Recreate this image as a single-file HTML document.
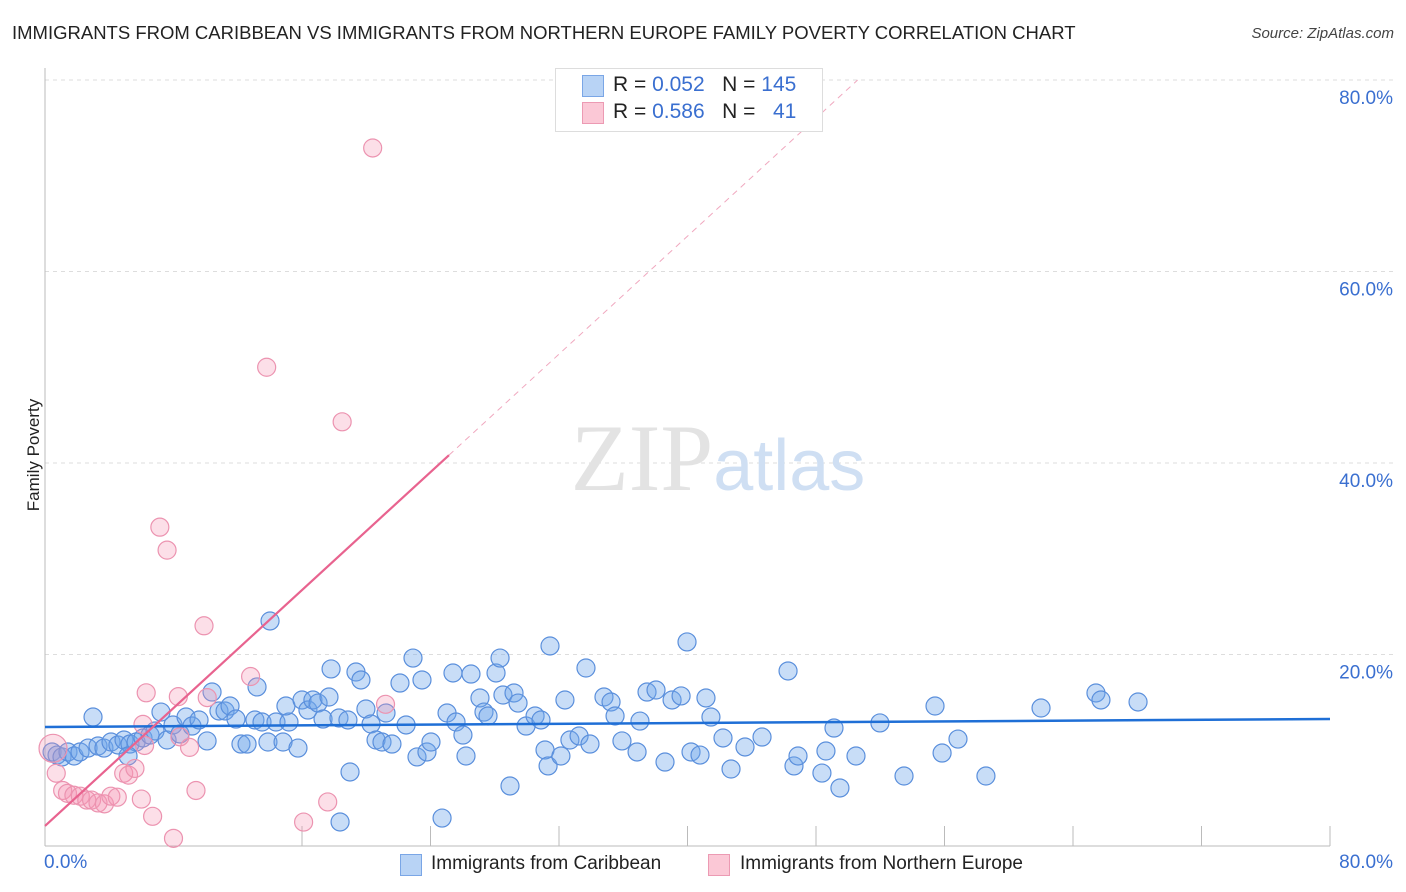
<!DOCTYPE html>
<html><head><meta charset="utf-8">
<style>
body{margin:0;background:#fff;font-family:"Liberation Sans",sans-serif;}
#wrap{position:relative;width:1406px;height:892px;overflow:hidden;}
.t{position:absolute;white-space:nowrap;}
</style></head>
<body>
<div id="wrap">
<div class="t" style="left:12px;top:22px;font-size:18.5px;color:#222;">IMMIGRANTS FROM CARIBBEAN VS IMMIGRANTS FROM NORTHERN EUROPE FAMILY POVERTY CORRELATION CHART</div>
<div class="t" style="right:12px;top:25px;font-size:15px;color:#444;font-style:italic;">Source: ZipAtlas.com</div>
<div class="t" style="left:-22px;top:445px;font-size:17px;color:#222;transform:rotate(-90deg);">Family Poverty</div>
<svg id="plot" width="1406" height="892" style="position:absolute;left:0;top:0"></svg>
<div style="position:absolute;left:555px;top:68px;width:266px;height:62px;border:1px solid #ddd;background:#fff;"></div>
<div style="position:absolute;left:582px;top:75px;width:20px;height:20px;background:#b8d3f5;border:1px solid #7aa6e6;"></div>
<div style="position:absolute;left:582px;top:102px;width:20px;height:20px;background:#fbc8d6;border:1px solid #ec9ab3;"></div>
<div class="t" style="left:613px;top:73px;font-size:21px;color:#222;">R = <span style="color:#3a6fd0">0.052</span>&nbsp;&nbsp;&nbsp;N = <span style="color:#3a6fd0">145</span></div>
<div class="t" style="left:613px;top:100px;font-size:21px;color:#222;">R = <span style="color:#3a6fd0">0.586</span>&nbsp;&nbsp;&nbsp;N = <span style="color:#3a6fd0">&nbsp;&nbsp;41</span></div>
<div class="t" style="left:44px;top:852px;font-size:19px;color:#3a6fd0;">0.0%</div>
<div class="t" style="right:13px;top:852px;font-size:19px;color:#3a6fd0;">80.0%</div>
<div style="position:absolute;left:400px;top:854px;width:20px;height:20px;background:#b8d3f5;border:1px solid #7aa6e6;"></div>
<div class="t" style="left:431px;top:853px;font-size:19px;color:#222;">Immigrants from Caribbean</div>
<div style="position:absolute;left:708px;top:854px;width:20px;height:20px;background:#fbc8d6;border:1px solid #ec9ab3;"></div>
<div class="t" style="left:740px;top:853px;font-size:19px;color:#222;">Immigrants from Northern Europe</div>
</div>
<script>
const yTicks=[20,40,60,80];
const yTickLabels=["20.0%","40.0%","60.0%","80.0%"];
const blueX=[0.44,0.75,1.06,1.43,1.81,2.18,2.68,2.99,3.30,3.67,4.11,4.54,4.92,5.29,5.67,6.10,6.54,6.85,7.22,7.60,7.97,8.40,8.78,9.15,9.59,10.09,10.40,10.83,11.21,11.52,11.89,12.20,12.58,13.07,13.51,14.01,13.20,13.88,14.38,14.82,15.19,15.00,15.75,16.00,16.37,16.68,17.00,17.31,17.68,17.81,18.30,18.86,19.36,19.67,19.98,20.30,20.61,20.98,21.23,21.60,22.10,22.48,22.91,23.16,23.47,23.78,24.03,25.03,25.40,25.59,26.02,26.21,26.52,27.08,27.33,27.58,28.08,28.33,28.51,28.95,29.20,29.45,29.95,30.51,30.88,31.13,31.32,31.44,32.12,32.37,32.68,33.25,33.68,33.93,34.80,35.24,35.49,35.92,36.86,37.04,37.48,38.04,38.60,39.04,39.60,39.97,40.22,40.78,41.15,41.46,42.21,42.71,43.58,44.64,46.26,46.63,46.88,48.37,48.62,49.12,49.49,50.49,51.98,53.48,55.41,55.85,56.84,58.58,62.01,65.43,65.74,68.05,18.37,24.72,18.99,5.17];
const blueY=[9.82,9.5,9.3,9.82,9.4,9.82,10.23,13.47,10.44,10.23,10.86,10.55,11.07,10.65,10.86,11.28,11.59,12.01,13.99,11.07,12.64,11.70,13.47,12.53,13.16,10.97,16.08,14.10,14.10,14.62,13.26,10.65,10.65,13.16,12.95,23.50,16.61,10.86,12.95,10.86,12.95,14.62,10.23,15.25,14.20,15.25,14.93,13.26,15.56,18.49,13.37,13.16,18.17,17.34,14.31,12.74,11.07,10.86,13.89,10.65,17.02,12.64,19.63,9.30,17.34,9.82,10.86,13.89,18.07,12.95,11.59,9.40,17.96,15.46,13.99,13.58,18.07,19.63,15.77,6.27,15.98,14.93,12.53,13.58,13.16,10.03,8.36,20.89,9.40,15.25,11.07,11.49,18.59,10.65,15.56,15.04,13.58,10.97,9.82,13.05,16.08,16.29,8.77,15.25,15.67,21.31,9.82,9.50,15.46,13.47,11.28,8.04,10.34,11.38,18.28,8.36,9.40,7.62,9.92,12.32,6.06,9.40,12.85,7.31,14.62,9.71,11.17,7.31,14.41,15.98,15.25,15.04,2.51,2.92,7.73,9.40];
const pinkX=[0.5,0.7,1.1,1.4,1.8,2.2,2.6,2.9,3.3,3.7,4.1,4.5,4.9,5.2,5.6,6,6.2,6.7,6.3,7.15,7.6,8.0,8.3,8.4,9,9.4,9.9,10.1,12.8,13.8,16.1,17.6,18.5,20.4,21.2,6.1];
const pinkY=[10.2,7.6,5.8,5.5,5.3,5.2,4.8,4.8,4.5,4.4,5.2,5.1,7.6,7.4,8.1,4.9,10.5,3.1,16,33.3,30.9,0.8,15.6,11.4,10.3,5.8,23.0,15.5,17.7,50,2.5,4.6,44.3,72.9,14.8,12.7];
const X0=45,X1=1330,Y0=846,Y80=80;
const xs=v=>X0+(X1-X0)*v/80, ys=v=>Y0-(Y0-Y80)*v/80;
const svg=document.getElementById('plot');const NS='http://www.w3.org/2000/svg';
function mk(t,a,name){const e=document.createElementNS(NS,t);for(const k in a)e.setAttribute(k,a[k]);


svg.appendChild(e);return e;}
yTicks.forEach((v,i)=>{mk('line',{x1:X0,x2:1395,y1:ys(v),y2:ys(v),stroke:'#ddd','stroke-dasharray':'4,4'},'gridline');
const t=mk('text',{x:1393,y:ys(v)+24,'text-anchor':'end','font-size':19,fill:'#3a6fd0','font-family':'Liberation Sans'},'y-tick-label');t.textContent=yTickLabels[i];});
mk('line',{x1:X0,x2:X0,y1:68,y2:Y0,stroke:'#bbb'},'y-axis');
mk('line',{x1:X0,x2:X1,y1:Y0,y2:Y0,stroke:'#bbb'},'x-axis');
for(let k=2;k<=10;k++){mk('line',{x1:xs(k*8),x2:xs(k*8),y1:Y0-20,y2:Y0,stroke:'#bbb'},'x-tick');}
const wm=mk('text',{x:718,y:490,'text-anchor':'middle','font-size':95,fill:'#e3e3e3','font-family':'Liberation Serif'},'watermark');
wm.innerHTML='ZIP<tspan fill="#cfdff3" font-family="Liberation Sans" font-size="72">atlas</tspan>';
blueX.forEach((x,i)=>mk('circle',{cx:xs(x),cy:ys(blueY[i]),r:9,fill:'rgba(110,165,235,0.38)',stroke:'#5a8fdc','stroke-width':1.2},'blue-point'));
pinkX.forEach((x,i)=>mk('circle',{cx:xs(x),cy:ys(pinkY[i]),r:i==0?14:9,fill:'rgba(245,150,180,0.3)',stroke:'#ec93b0','stroke-width':1.2},'pink-point'));
const bI=12.43,bS=0.0104;
mk('line',{x1:xs(0),y1:ys(bI),x2:xs(80),y2:ys(bI+bS*80),stroke:'#1f6fd6','stroke-width':2.5},'blue-trend-line');
const pI=2.09,pS=1.54;
mk('line',{x1:xs(0),y1:ys(pI),x2:xs(25.15),y2:ys(pI+pS*25.15),stroke:'#e8638f','stroke-width':2.2},'pink-trend-line');
const xe=(80-pI)/pS;
mk('line',{x1:xs(25.15),y1:ys(pI+pS*25.15),x2:xs(xe),y2:ys(80),stroke:'#f0a8bf','stroke-width':1,'stroke-dasharray':'6,5'},'pink-trend-extension');
</script>
</body></html>
